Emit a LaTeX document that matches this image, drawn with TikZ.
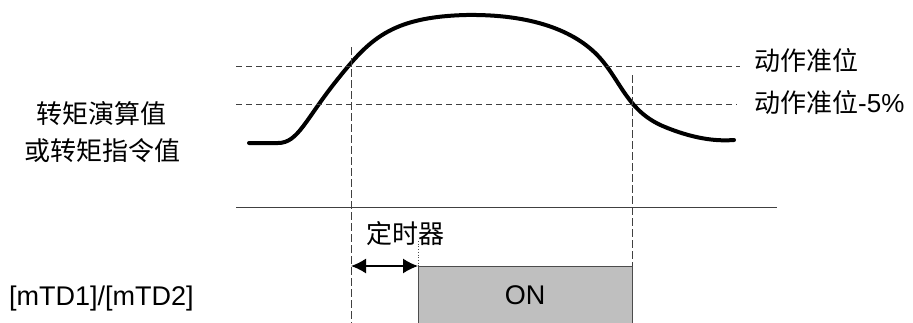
\documentclass[tikz,border=0pt]{standalone}
\usepackage{fontspec}
\setmainfont{Liberation Sans}
\newfontfamily\cjk{Noto Sans CJK SC}
\usetikzlibrary{arrows.meta}
\begin{document}
\begin{tikzpicture}[x=1pt,y=-1pt,
  lbl/.style={inner sep=0pt,font=\fontsize{26}{30}\selectfont},
  hdash/.style={draw=black!75,line width=0.9pt,dash pattern=on 6pt off 4pt},
  vdash/.style={draw=black!75,line width=0.9pt,dash pattern=on 8pt off 3pt},
  sigline/.style={line width=4pt,line cap=round,line join=round}]
\useasboundingbox (0,0) rectangle (913,322);
% waveform
\draw[sigline] (249,143) -- (278,143)
  .. controls (298,143) and (305,120) .. (337,80)
  .. controls (369,40) and (390,17) .. (466,15)
  .. controls (530,14) and (575,30) .. (600,58)
  .. controls (622,83) and (628,112) .. (665,127)
  .. controls (698,140.5) and (720,141) .. (734,140);
% levels
\coordinate (u1) at (236,66); \coordinate (u2) at (740,66);
\coordinate (l1) at (236,104); \coordinate (l2) at (737,104);
\draw[hdash] (u1) -- (u2);
\draw[hdash] (l1) -- (l2);
\node[lbl,anchor=west] (lev) at (754,61) {\cjk 动作准位};
\node[lbl,anchor=west] (lev5) at (754,103) {{\cjk 动作准位}-5\%};
% left labels
\node[lbl] (t1) at (101,114) {\cjk 转矩演算值};
\node[lbl] (t2) at (102,151) {\cjk 或转矩指令值};
% separator
\coordinate (s1) at (236,207); \coordinate (s2) at (777,207);
\draw[draw=black!75,line width=0.9pt] (s1) -- (s2);
% ON box
\fill[black!25] (418,266) rectangle (632,323);
\draw[draw=black!70,line width=0.9pt] (418,323) -- (418,266) -- (632,266) -- (632,323);
\node[lbl,font=\fontsize{27}{30}\selectfont] (on) at (525,295) {ON};
% vertical dashed
\coordinate (v1a) at (351,47); \coordinate (v1b) at (351,323);
\coordinate (v2a) at (632,75); \coordinate (v2b) at (632,266);
\draw[vdash] (v1a) -- (v1b);
\draw[vdash] (v2a) -- (v2b);
% timer
\coordinate (d1) at (418,241); \coordinate (d2) at (418,266);
\draw[black!70,line width=0.7pt,dotted] (d1) -- (d2);
\coordinate (a1) at (351,266); \coordinate (a2) at (418,266);
\draw[line width=1.5pt,{Latex[length=15pt,width=15pt]}-{Latex[length=15pt,width=15pt]}] (a1) -- (a2);
\node[lbl] (tim) at (405,234) {\cjk 定时器};
% output label
\node[lbl,font=\fontsize{27}{30}\selectfont,anchor=west] (mtd) at (9,299) {[mTD1]/[mTD2]};
\end{tikzpicture}
\end{document}
